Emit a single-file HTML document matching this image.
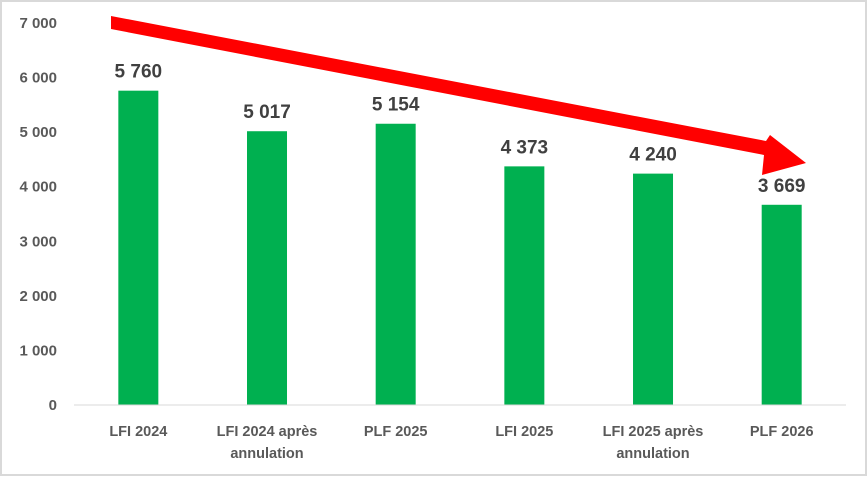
<!DOCTYPE html>
<html><head><meta charset="utf-8"><style>
body{margin:0;background:#fff}
svg{display:block;font-family:"Liberation Sans",Arial,sans-serif}
</style></head><body>
<svg id="chart" width="868" height="477" viewBox="0 0 868 477">
<rect x="1" y="1" width="865" height="474" fill="#fff" stroke="#d9d9d9" stroke-width="2"/>
<g id="yaxis"></g><g id="bars"></g>
<line x1="74" y1="405" x2="846" y2="405" stroke="#d9d9d9" stroke-width="1"/>
<g>
<polygon points="111,16 766,141 770,135 806,163 762,175 764,155 111,29" fill="#ff0000"/>
</g>
</svg>
<script>
const categories=[["LFI 2024"],["LFI 2024 après","annulation"],["PLF 2025"],["LFI 2025"],["LFI 2025 après","annulation"],["PLF 2026"]];
const values=[5760,5017,5154,4373,4240,3669];
const valueLabels=["5 760","5 017","5 154","4 373","4 240","3 669"];
const ticks=[0,1000,2000,3000,4000,5000,6000,7000];
const tickLabels=["0","1 000","2 000","3 000","4 000","5 000","6 000","7 000"];
const NS="http://www.w3.org/2000/svg";
const y=v=>405-v*0.05457;
const bandW=128.67, x0=74;
const x=i=>x0+bandW*(i+0.5);
function mk(t,a,p,txt){const e=document.createElementNS(NS,t);for(const k in a)e.setAttribute(k,a[k]);if(txt!=null)e.textContent=txt;p.appendChild(e);return e;}
const ya=document.getElementById('yaxis'),bg=document.getElementById('bars');
ticks.forEach((t,i)=>{
 const e=mk('text',{x:57,y:y(t)+5,'text-anchor':'end','font-size':15,'font-weight':'bold',fill:'#595959'},ya,tickLabels[i]);
 
 
});
values.forEach((v,i)=>{
 const r=mk('rect',{x:x(i)-20,y:y(v),width:40,height:405-y(v),fill:'#00b050'},bg);
 
 
 const l=mk('text',{x:x(i),y:y(v)-13,'text-anchor':'middle','font-size':19,'font-weight':'bold',fill:'#404040'},bg,valueLabels[i]);
 
 
 categories[i].forEach((line,j)=>{
  const c=mk('text',{x:x(i),y:436+j*22,'text-anchor':'middle','font-size':14.5,'font-weight':'bold',fill:'#595959'},bg,line);
  
  
 });
});
</script>
</body></html>
